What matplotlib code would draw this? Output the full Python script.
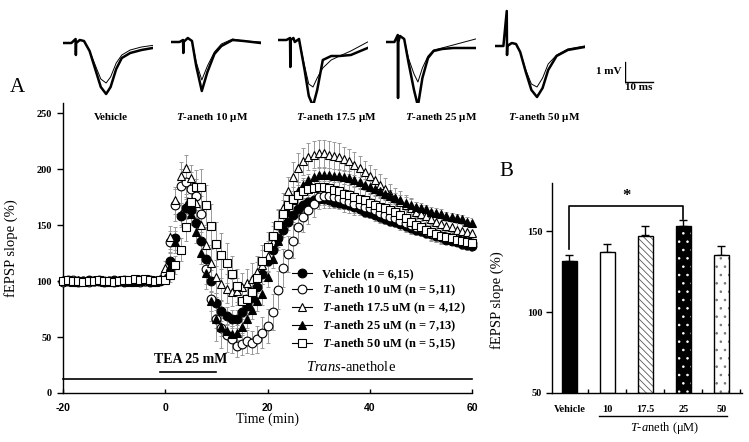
import matplotlib
matplotlib.use('Agg')
import matplotlib.pyplot as plt
from matplotlib.lines import Line2D
import numpy as np

plt.rcParams['font.family'] = 'Liberation Serif'
plt.rcParams['font.weight'] = 'bold'
plt.rcParams['mathtext.fontset'] = 'custom'
plt.rcParams['mathtext.rm'] = 'Liberation Serif:bold'
plt.rcParams['mathtext.it'] = 'Liberation Serif:italic:bold'
plt.rcParams['mathtext.sf'] = 'Liberation Serif:style=italic:weight=normal'
plt.rcParams['axes.linewidth'] = 1.0
plt.rcParams['axes.unicode_minus'] = False
plt.rcParams['hatch.linewidth'] = 0.6

# ---------------- panel A: time course (min, % of baseline) ----------------
minutes = np.arange(-20, 61)

vehicle = [100, 101, 100, 99, 100, 101, 100, 100, 99, 100, 101, 100, 99, 100, 100, 101, 100, 99, 100, 100,
           104, 118, 138, 158, 165, 163, 152, 136, 120, 100, 80, 73, 69, 66, 66, 72, 78, 85, 95, 106, 118,
           128, 138, 146, 153, 159, 164, 168, 171, 172, 173,
           173, 172, 171, 170, 169, 168, 166, 164, 162, 161, 159, 157, 155, 154, 153,
           151, 149, 147, 146, 145, 143, 142, 140, 139, 137, 136, 135, 133, 132, 131]
vehicle_err = [2, 2, 2, 2, 2, 2, 2, 2, 2, 2, 2, 2, 2, 2, 2, 2, 2, 2, 2, 2,
               4, 8, 10, 10, 10, 11, 11, 11, 10, 10, 9, 9, 8, 8, 8, 9, 10, 10, 10, 9, 9,
               8, 8, 7, 7, 6, 6, 6, 6, 5, 5,
               5, 5, 5, 5, 5, 5, 5, 5, 5, 5, 4, 4, 4, 4, 4,
               4, 4, 4, 4, 4, 4, 4, 4, 4, 4, 4, 4, 4, 4, 4]

aneth10 = [99, 100, 101, 100, 100, 99, 100, 101, 100, 100, 99, 100, 101, 100, 100, 99, 100, 101, 100, 101,
           106, 135, 168, 185, 188, 182, 176, 160, 111, 84, 66, 58, 52, 48, 42, 44, 46, 45, 48, 54, 60,
           72, 92, 112, 124, 136, 148, 157, 163, 169, 175,
           176, 176, 175, 174, 172, 171, 169, 168, 166, 165, 163, 161, 159, 157, 156,
           154, 152, 150, 148, 147, 145, 143, 142, 140, 139, 138, 137, 136, 135, 134]
aneth10_err = [2, 2, 2, 2, 2, 2, 2, 2, 2, 2, 2, 2, 2, 2, 2, 2, 2, 2, 2, 2,
               5, 10, 14, 15, 15, 15, 15, 16, 18, 20, 20, 18, 15, 12, 10, 10, 10, 10, 12, 14, 15,
               16, 17, 17, 16, 15, 14, 13, 12, 12, 11,
               11, 11, 10, 10, 10, 10, 10, 9, 9, 9, 9, 9, 8, 8, 8,
               8, 8, 8, 7, 7, 7, 7, 7, 7, 6, 6, 6, 6, 6, 6]

aneth17 = [100, 100, 99, 101, 100, 100, 101, 100, 99, 100, 100, 101, 100, 100, 99, 100, 101, 100, 100, 102,
           112, 139, 172, 194, 201, 192, 170, 150, 132, 116, 104, 97, 93, 90, 91, 95, 98, 102, 108, 114, 122,
           135, 150, 165, 180, 193, 201, 207, 211, 213, 214,
           214, 213, 212, 211, 209, 207, 204, 201, 197, 194, 190, 186, 182, 178, 174,
           171, 168, 165, 162, 160, 158, 155, 153, 151, 149, 148, 146, 145, 144, 143]
aneth17_err = [2, 2, 2, 2, 2, 2, 2, 2, 2, 2, 2, 2, 2, 2, 2, 2, 2, 2, 2, 2,
               6, 10, 12, 12, 12, 12, 14, 15, 16, 16, 15, 14, 13, 12, 12, 12, 13, 14, 14, 14, 14,
               14, 14, 14, 13, 13, 13, 12, 12, 12, 12,
               12, 12, 12, 12, 11, 11, 11, 11, 10, 10, 10, 10, 10, 9, 9,
               9, 9, 9, 9, 8, 8, 8, 8, 8, 8, 7, 7, 7, 7, 7]

aneth25 = [101, 100, 100, 99, 100, 100, 101, 100, 100, 99, 100, 101, 100, 99, 100, 100, 101, 100, 99, 101,
           103, 113, 135, 160, 168, 160, 144, 125, 107, 82, 66, 59, 55, 53, 54, 59, 66, 74, 82, 88, 104,
           120, 136, 150, 162, 172, 180, 186, 190, 193, 195,
           195, 195, 194, 194, 193, 192, 190, 188, 186, 184, 182, 180, 178, 176, 174,
           172, 170, 168, 166, 165, 164, 162, 161, 160, 158, 157, 156, 155, 153, 152]
aneth25_err = [2, 2, 2, 2, 2, 2, 2, 2, 2, 2, 2, 2, 2, 2, 2, 2, 2, 2, 2, 2,
               5, 8, 10, 10, 10, 10, 10, 10, 10, 9, 8, 8, 7, 7, 7, 7, 8, 8, 9, 9, 9,
               8, 8, 7, 7, 6, 6, 6, 6, 6, 6,
               6, 6, 6, 6, 6, 6, 5, 5, 5, 5, 5, 5, 5, 5, 5,
               5, 5, 5, 5, 5, 4, 4, 4, 4, 4, 4, 4, 4, 4, 4]

aneth50 = [100, 101, 100, 100, 99, 100, 100, 101, 100, 100, 99, 100, 101, 101, 102, 101, 102, 101, 100, 101,
           101, 105, 114, 128, 148, 171, 184, 184, 168, 149, 133, 123, 116, 106, 96, 82, 84, 90, 103, 118, 130,
           140, 150, 160, 168, 173, 177, 180, 182, 183, 184,
           184, 183, 181, 180, 178, 177, 175, 173, 172, 170, 168, 166, 165, 163, 162,
           159, 156, 153, 150, 148, 146, 144, 142, 140, 139, 138, 137, 136, 135, 134]
aneth50_err = [2, 2, 2, 2, 2, 2, 2, 2, 2, 2, 2, 2, 2, 2, 2, 2, 2, 2, 2, 2,
               4, 6, 8, 10, 12, 14, 15, 16, 18, 20, 20, 20, 18, 16, 15, 14, 14, 14, 14, 14, 14,
               13, 13, 12, 12, 11, 11, 10, 10, 10, 10,
               10, 10, 10, 9, 9, 9, 9, 9, 9, 8, 8, 8, 8, 8, 8,
               8, 7, 7, 7, 7, 7, 7, 7, 6, 6, 6, 6, 6, 6, 6]

legend_labels = ['Vehicle (n = 6,15)',
                 '$T$-aneth 10 uM (n = 5,11)',
                 '$T$-aneth 17.5 uM (n = 4,12)',
                 '$T$-aneth 25 uM (n = 7,13)',
                 '$T$-aneth 50 uM (n = 5,15)']

# ---------------- panel B: summary bars ----------------
bar_groups = ['Vehicle', '10', '17.5', '25', '50']
bar_means = [132, 137, 147.5, 153.5, 135.5]
bar_errs = [3.5, 5, 6, 3.5, 5.5]

# ---------------- example fEPSP traces (ms, mV) ----------------
trace_names = ['Vehicle', '$T$-aneth 10 μM', '$T$-aneth 17.5 μM', '$T$-aneth 25 μM', '$T$-aneth 50 μM']
trace_t = [
    [0, 3, 4.5, 4.6, 4.7, 6, 7.5, 9.5, 11.5, 13.5, 15.4, 17, 19, 21, 24, 28, 32],
    [0, 3, 4.3, 4.4, 4.5, 6, 7.5, 9, 11, 13, 15.5, 18, 22, 26, 32],
    [0, 3, 4.3, 4.4, 4.5, 5.5, 6, 7.5, 9.5, 11, 12.5, 14, 16, 19, 22, 26, 32],
    [0, 3, 4.2, 4.3, 4.4, 5, 6.5, 8, 10, 11.4, 13, 15, 17, 20, 24, 28, 32],
    [0, 3, 4.2, 4.3, 4.4, 6, 7.5, 9, 11, 13, 15, 17, 19, 22, 26, 32],
]
trace_thick = [
    [0, 0, 0.2, -0.6, 0, 0.15, 0.1, -0.4, -1.3, -2.2, -2.55, -2.2, -1.3, -0.75, -0.5, -0.35, -0.25],
    [0, 0, 0.1, -0.55, 0, 0.2, 0.05, -1.2, -2.45, -1.5, -0.6, -0.2, 0.1, 0.05, -0.05],
    [0, 0, 0.1, -1.35, 0, 0.1, -0.1, 0.05, -1.5, -2.8, -3.3, -2.5, -1.0, -0.8, -0.8, -0.75, -0.4],
    [0, 0, 0.35, -2.8, 0, 0.3, 0.15, -1.0, -2.4, -3.2, -1.8, -0.8, -0.45, -0.35, -0.3, -0.3, -0.3],
    [0, 0, 1.75, -0.45, 0, 0.15, 0.1, -0.3, -1.3, -2.2, -2.55, -2.1, -1.2, -0.5, -0.2, -0.05],
]
trace_thin = [
    [0, 0, 0.2, -0.6, 0, 0.15, 0.1, -0.4, -1.1, -1.8, -2.0, -1.7, -1.0, -0.6, -0.35, -0.2, -0.12],
    [0, 0, 0.1, -0.55, 0, 0.2, 0.05, -1.0, -1.9, -1.2, -0.5, -0.1, 0.15, 0.05, 0.0],
    [0, 0, 0.1, -1.35, 0, 0.1, -0.1, 0.05, -1.3, -2.2, -2.35, -1.9, -1.4, -1.0, -0.8, -0.55, -0.1],
    [0, 0, 0.35, -2.8, 0, 0.3, 0.15, -0.8, -1.6, -2.0, -1.3, -0.7, -0.4, -0.3, -0.15, 0.0, 0.15],
    [0, 0, 1.75, -0.45, 0, 0.15, 0.1, -0.3, -1.2, -1.9, -2.05, -1.6, -0.9, -0.45, -0.15, 0.0],
]

W, H = 749, 442
fig = plt.figure(figsize=(W / 100, H / 100), dpi=100)


def px_axes(left, top, width, height):
    return fig.add_axes([left / W, 1 - (top + height) / H, width / W, height / H])


# ---- traces on top
trace_left = [63, 171, 278, 386, 495]
trace_base = [43, 42, 40, 42, 46]
label_x = [111, 212, 336, 441, 544]
for i in range(5):
    axt = px_axes(trace_left[i], trace_base[i] - 38, 89.6, 114)
    axt.plot(trace_t[i], trace_thin[i], color='black', lw=0.7)
    axt.plot(trace_t[i], trace_thick[i], color='black', lw=1.8)
    axt.set_xlim(0, 32)
    axt.set_ylim(-3.8, 1.9)
    axt.axis('off')
    fig.text(label_x[i] / W, 1 - 118 / H, trace_names[i], fontsize=8, ha='center', va='center')

axs = px_axes(625, 82 - 38, 89.6, 114)
axs.plot([0, 0], [0, 1], color='black', lw=1)
axs.plot([0, 10], [0, 0], color='black', lw=1)
axs.text(-1.4, 0.5, '1 mV', fontsize=8, ha='right', va='center')
axs.text(5, -0.3, '10 ms', fontsize=8, ha='center', va='center')
axs.set_xlim(0, 32)
axs.set_ylim(-3.8, 1.9)
axs.axis('off')

# ---- panel A
axA = px_axes(63, 103, 409, 290)
series = [vehicle, aneth10, aneth17, aneth25, aneth50]
errors = [vehicle_err, aneth10_err, aneth17_err, aneth25_err, aneth50_err]
markers = ['o', 'o', '^', '^', 's']
faces = ['black', 'white', 'white', 'black', 'white']

for vals, errs in zip(series, errors):
    axA.errorbar(minutes, vals, yerr=errs, fmt='none', ecolor='0.6', elinewidth=0.7,
                 capsize=1.2, capthick=0.7, zorder=1)
for vals, m, fc in zip(series, markers, faces):
    axA.plot(minutes, vals, ls='none', marker=m, mfc=fc, mec='black', mew=0.8, ms=6.3,
             clip_on=False, zorder=3)

axA.set_xlim(-20, 60)
axA.set_ylim(0, 259)
axA.set_xticks([-20, 0, 20, 40, 60])
axA.set_yticks([0, 50, 100, 150, 200, 250])
axA.spines['top'].set_visible(False)
axA.spines['right'].set_visible(False)
axA.tick_params(axis='x', direction='in', length=3, width=1, labelsize=7.5, pad=7)
axA.tick_params(axis='y', direction='out', length=4, width=1, labelsize=7.5, pad=4)
for lbl in axA.get_xticklabels():
    lbl.set_family('Liberation Sans')
axA.set_xlabel('Time (min)', fontsize=10, labelpad=0)
axA.set_ylabel('fEPSP slope (%)', fontsize=10.5)
axA.yaxis.set_label_coords(-0.11, 0.5)

# drug application bars
axA.plot([-1, 10], [19, 19], color='black', lw=1.2)
axA.text(5, 30, 'TEA 25 mM', fontsize=10, ha='center', va='center')
axA.plot([-20, 60], [12.5, 12.5], color='black', lw=1.2, clip_on=False)
axA.text(36.4, 23, r'$\mathsf{Trans}$-anethole', fontsize=10.5, fontweight='normal',
         ha='center', va='center')

handles = [Line2D([], [], color='black', lw=0.8, marker=m, mfc=fc, mec='black', mew=0.8, ms=6.3)
           for m, fc in zip(markers, faces)]
fig.legend(handles, legend_labels, loc='upper left', bbox_to_anchor=(292 / W, 1 - 268 / H),
           frameon=False, fontsize=9, handlelength=1.6, handletextpad=0.8,
           labelspacing=0.2, borderpad=0, borderaxespad=0)

fig.text(17 / W, 1 - 88 / H, 'A', fontsize=15, fontweight='normal', ha='center', va='center')

# ---- panel B
axB = px_axes(552, 183, 190, 210)
xpos = np.arange(len(bar_groups))
bar_w = 0.42
face_b = ['black', 'white', 'white', 'black', 'white']
hatch_b = [None, None, '\\\\\\\\\\', '..', '..']
hatch_col = ['black', 'black', '0.35', 'white', '0.45']
for x, h, fc, ht, hc in zip(xpos, bar_means, face_b, hatch_b, hatch_col):
    axB.bar(x, h - 50, bottom=50, width=bar_w, color=fc, edgecolor=hc, hatch=ht, linewidth=0, zorder=2)
    axB.bar(x, h - 50, bottom=50, width=bar_w, fill=False, edgecolor='black', linewidth=1, zorder=3)
axB.errorbar(xpos, bar_means, yerr=[np.zeros(len(bar_errs)), bar_errs], fmt='none',
             ecolor='black', elinewidth=1, capsize=3, capthick=1, zorder=1)

axB.set_xlim(-0.46, 4.54)
axB.set_ylim(50, 180)
axB.set_yticks([50, 100, 150])
axB.set_xticks(xpos)
axB.set_xticklabels(bar_groups)
axB.set_xticks([0.5, 1.5, 2.5, 3.5, 4.5], minor=True)
axB.spines['top'].set_visible(False)
axB.spines['right'].set_visible(False)
axB.tick_params(axis='x', which='major', length=0, labelsize=7.5, pad=9)
axB.tick_params(axis='x', which='minor', direction='in', length=3, width=1)
axB.tick_params(axis='y', direction='out', length=4, width=1, labelsize=7.5, pad=3)
axB.set_ylabel('fEPSP slope (%)', fontsize=10.5)
axB.yaxis.set_label_coords(-0.25, 0.44)

# significance bracket Vehicle vs 25 uM
axB.plot([0, 0, 3, 3], [139, 165.7, 165.7, 158], color='black', lw=1.2)
axB.text(1.5, 172, '*', fontsize=12, ha='center', va='center')

trans = axB.get_xaxis_transform()
axB.plot([0.78, 4.14], [-0.11, -0.11], color='black', lw=1, transform=trans, clip_on=False)
axB.text(2.5, -0.167, r'$\mathsf{T}$-$\mathsf{a}$neth (μM)', fontsize=9, fontweight='normal',
         ha='center', va='center', transform=trans)

fig.text(506 / W, 1 - 171 / H, 'B', fontsize=15, fontweight='normal', ha='center', va='center')

fig.savefig('out.png', dpi=100)
